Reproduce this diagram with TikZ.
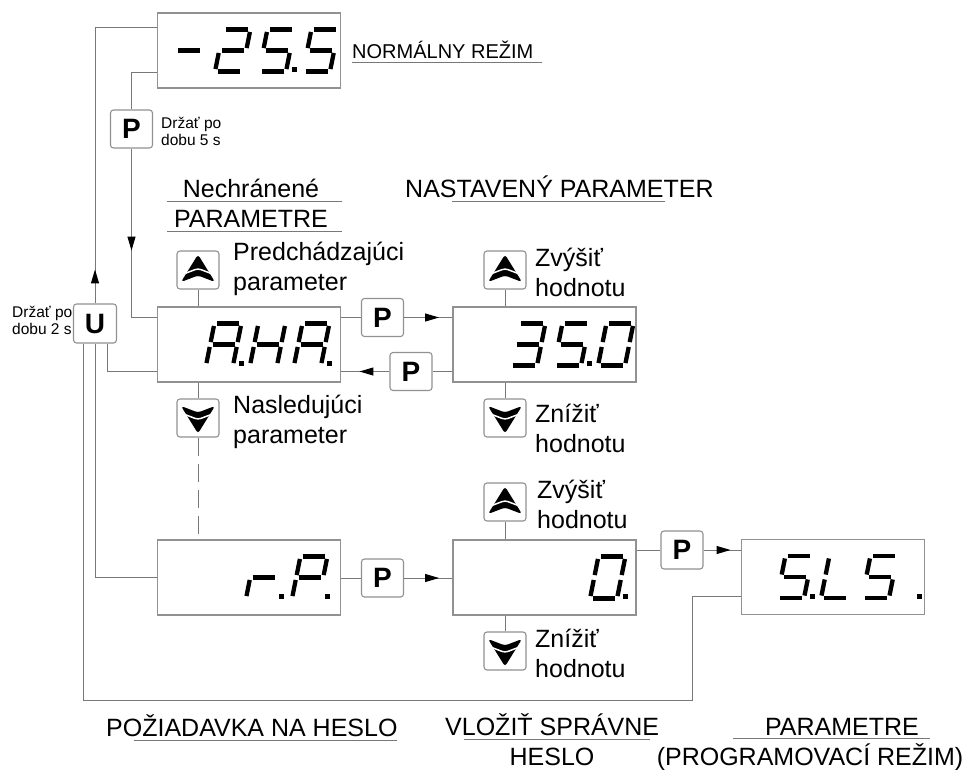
\documentclass[tikz,border=0pt]{standalone}
\usepackage{fontspec}
\setmainfont{Liberation Sans}
\usetikzlibrary{arrows.meta, positioning, calc, decorations.markings}
\definecolor{linka}{RGB}{120,120,120}
\definecolor{ramik}{RGB}{145,145,145}

% sedemsegmentove znaky (zoznam segmentov ako dvojice rohov)
\newcommand{\znakNula}{TL/TR,TR/MR,MR/BR,BR/BL,BL/ML,ML/TL}
\newcommand{\znakDva}{TL/TR,TR/MR,MR/ML,ML/BL,BL/BR}
\newcommand{\znakTri}{TL/TR,TR/MR,ML/MR,MR/BR,BL/BR}
\newcommand{\znakPat}{TR/TL,TL/ML,ML/MR,MR/BR,BR/BL}
\newcommand{\znakA}{TL/TR,TR/MR,MR/BR,ML/BL,TL/ML,ML/MR}
\newcommand{\znakH}{TR/MR,MR/BR,TL/ML,ML/BL,ML/MR}
\newcommand{\znakMinus}{ML/MR}
\newcommand{\znakR}{ML/BL,ML/MR}
\newcommand{\znakP}{TL/TR,TR/MR,TL/ML,ML/MR,ML/BL}
\newcommand{\znakL}{TL/ML,ML/BL,BL/BR}

\newcommand{\cifra}[3]{%
  \begin{scope}[shift={(#1,#2)}, xslant=0.2]
    \coordinate (TL) at (0,42); \coordinate (TR) at (27,42);
    \coordinate (ML) at (0,21); \coordinate (MR) at (27,21);
    \coordinate (BL) at (0,0);  \coordinate (BR) at (27,0);
    \foreach \p/\q in #3 {\draw[segment] (\p) -- (\q);}
  \end{scope}}
\newcommand{\bodka}[2]{\fill (#1+33,#2-0.5) rectangle ++(5,5);}

\tikzset{
  displej/.style={draw=ramik, line width=1.2pt, minimum width=183pt, minimum height=75pt, inner sep=0pt},
  tlacidlo/.style={draw=ramik, line width=1.1pt, rounded corners=3pt, minimum width=42pt,
    minimum height=38pt, inner sep=0pt, font=\fontsize{28}{28}\selectfont\bfseries},
  spoj/.style={draw=linka, line width=1pt},
  sipka/.style={decoration={markings, mark=at position #1 with
    {\arrow{Triangle[length=14pt, width=8pt, color=black]}}}, postaction={decorate}},
  segment/.style={line width=4.3pt, shorten <=2.5pt, shorten >=2.5pt},
  hore/.style={tlacidlo, path picture={
    \begin{scope}[shift={(path picture bounding box.center)}]
      \fill (0,15.5) -- (-17,-12) -- (0,-5.5) -- (17,-12) -- cycle;
      \draw[white, line width=1.5pt] (-19,-5.7) -- (0,1.5) -- (19,-5.7);
    \end{scope}}},
  dole/.style={tlacidlo, path picture={
    \begin{scope}[shift={(path picture bounding box.center)}]
      \fill (0,-15.5) -- (-17,12) -- (0,5.5) -- (17,12) -- cycle;
      \draw[white, line width=1.5pt] (-19,5.7) -- (0,-1.5) -- (19,5.7);
    \end{scope}}},
  velky/.style={inner sep=0pt, align=left, font=\fontsize{25}{30}\selectfont},
  stredny/.style={inner sep=0pt, font=\fontsize{20}{24}\selectfont},
  maly/.style={inner sep=0pt, align=left, font=\fontsize{15.5}{17}\selectfont},
  podciarknutie/.style={draw=linka, line width=1pt}
}

\begin{document}
\begin{tikzpicture}[x=1pt, y=1pt]
    \useasboundingbox (0,0) rectangle (971,-769);

    % displeje
    \node[displej] (top) at (249,-50.5) {};
    \node[displej] (aha) at (249,-344.5) {};
    \node[displej] (val) at (544.5,-344.5) {};
    \node[displej] (rp) at (249,-577.5) {};
    \node[displej] (zero) at (544.5,-577.5) {};
    \node[displej] (sls) at (833,-577) {};

    % tlacidla
    \node[tlacidlo] (ptop) at (131.5,-129) {P};
    \node[tlacidlo, minimum width=43pt, minimum height=39pt] (u) at (95,-323.5) {U};
    \node[tlacidlo] (pfwd) at (382.5,-317.5) {P};
    \node[tlacidlo] (pback) at (411,-371.5) {P};
    \node[tlacidlo] (prp) at (382.5,-578) {P};
    \node[tlacidlo] (pzero) at (682,-550) {P};
    \node[hore] (up1) at (198,-270) {};
    \node[dole] (dn1) at (198,-418) {};
    \node[hore] (up2) at (505,-270) {};
    \node[dole] (dn2) at (505,-418) {};
    \node[hore] (up3) at (505,-502) {};
    \node[dole] (dn3) at (505,-651) {};

    % znaky na displejoch
    \cifra{171}{-71.5}{\znakMinus}
    \cifra{215}{-71.5}{\znakDva}
    \cifra{259}{-71.5}{\znakPat} \bodka{259}{-71.5}
    \cifra{303}{-71.5}{\znakPat}
    \cifra{206}{-365.5}{\znakA} \bodka{206}{-365.5}
    \cifra{250}{-365.5}{\znakH}
    \cifra{294}{-365.5}{\znakA} \bodka{294}{-365.5}
    \cifra{510}{-365.5}{\znakTri}
    \cifra{554}{-365.5}{\znakPat} \bodka{554}{-365.5}
    \cifra{598}{-365.5}{\znakNula}
    \cifra{246}{-598.5}{\znakR} \bodka{246}{-598.5}
    \cifra{292}{-598.5}{\znakP} \bodka{292}{-598.5}
    \cifra{590}{-598.5}{\znakNula} \bodka{590}{-598.5}
    \cifra{777}{-598}{\znakPat} \bodka{777}{-598}
    \cifra{821}{-598}{\znakL}
    \cifra{862}{-598}{\znakPat}
    \fill (917,-598.5) rectangle ++(5,5);

    % spoje
    \coordinate (dolny) at (692,-700);
    \draw[spoj, sipka=34pt] (u.north) |- ([yshift=-15pt]top.north west);
    \draw[spoj] ([yshift=16pt]top.south west) -| (ptop.north);
    \draw[spoj, sipka=102pt] (ptop.south) |- ([yshift=-11pt]aha.north west);
    \draw[spoj] ([xshift=12pt]u.south) |- ([yshift=11pt]aha.south west);
    \draw[spoj] (u.south) |- (rp.west);
    \draw[spoj] ([xshift=-12pt]u.south) |- (dolny) |- ([yshift=19pt]sls.south west);
    \draw[spoj] (aha.east |- pfwd) -- (pfwd);
    \draw[spoj, sipka=35pt] (pfwd) -- (val.west |- pfwd);
    \draw[spoj] (val.west |- pback) -- (pback);
    \draw[spoj, sipka=30pt] (pback) -- (aha.east |- pback);
    \draw[spoj] (rp.east |- prp) -- (prp);
    \draw[spoj, sipka=35pt] (prp) -- (zero.west |- prp);
    \draw[spoj] (zero.east |- pzero) -- (pzero);
    \draw[spoj, sipka=27pt] (pzero) -- (sls.west |- pzero);
    \draw[spoj] (up1) -- (up1 |- aha.north);
    \draw[spoj] (up2) -- (up2 |- val.north);
    \draw[spoj] (up3) -- (up3 |- zero.north);
    \draw[spoj] (dn2) -- (dn2 |- val.south);
    \draw[spoj] (dn3) -- (dn3 |- zero.south);
    \draw[spoj] (dn1) -- (dn1 |- aha.south);
    \draw[spoj, dash pattern=on 18pt off 8pt] (dn1.south) -- (dn1.south |- rp.north);

    % popisy
    \node[stredny, anchor=base west] (norm) at (352,-58) {NORMÁLNY REŽIM};
    \draw[podciarknutie] ([yshift=-4pt]norm.base west) -- ([yshift=-4pt, xshift=8pt]norm.base east);
    \node[maly, anchor=base west] (drz5) at (161,-145) {Držať po\\dobu 5 s};
    \node[maly, anchor=base west] (drz2) at (12,-334.5) {Držať po\\dobu 2 s};
    \node[velky, anchor=base] (nech) at (251,-197) {Nechránené};
    \node[velky, anchor=base] (nechpar) at (251,-227) {PARAMETRE};
    \draw[podciarknutie] (167,-201) -- (342,-201);
    \draw[podciarknutie] (167,-231) -- (342,-231);
    \node[velky, anchor=base west] (nast) at (405,-197) {NASTAVENÝ PARAMETER};
    \draw[podciarknutie] (452,-201) -- (665,-201);
    \node[velky, anchor=base west] (predch) at (233,-290) {Predchádzajúci\\parameter};
    \node[velky, anchor=base west] (nasl) at (233,-443) {Nasledujúci\\parameter};
    \node[velky, anchor=base west] (zvys1) at (535,-296) {Zvýšiť\\hodnotu};
    \node[velky, anchor=base west] (zniz1) at (535,-452) {Znížiť\\hodnotu};
    \node[velky, anchor=base west] (zvys2) at (537,-528) {Zvýšiť\\hodnotu};
    \node[velky, anchor=base west] (zniz2) at (535,-677) {Znížiť\\hodnotu};
    \node[velky, anchor=base west] (poz) at (106,-736) {POŽIADAVKA NA HESLO};
    \draw[podciarknutie] (134,-740) -- (397,-740);
    \node[velky, anchor=base west] (vloz) at (445,-735) {VLOŽIŤ SPRÁVNE};
    \draw[podciarknutie] (464,-739) -- (650,-739);
    \node[velky, anchor=base] (heslo) at (552,-765) {HESLO};
    \node[velky, anchor=base] (param) at (842,-735) {PARAMETRE};
    \draw[podciarknutie] (733,-738) -- (930,-738);
    \node[velky, anchor=base] (prog) at (810,-765) {(PROGRAMOVACÍ REŽIM)};
\end{tikzpicture}
\end{document}
